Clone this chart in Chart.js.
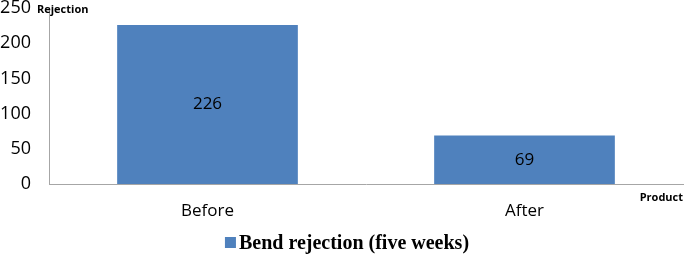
<!DOCTYPE html>
<html lang="en">
<head>
  <meta charset="UTF-8">
  <title>Bend rejection</title>
  <script src="https://cdn.jsdelivr.net/npm/chart.js"></script>
  <style>
    html, body { margin: 0; padding: 0; background: #fff; overflow: hidden; }
    canvas { display: block; }
  </style>
</head>
<body>
<canvas id="chart" width="685" height="257"></canvas>
<script>
  const categories = ["Before", "After"];
  const rejections = [226, 69];
  const yTicks = [0, 50, 100, 150, 200, 250];
  const seriesName = 'Bend rejection (five weeks)';
  const barColor = '#4f81bd';

  const sans = "'Open Sans', 'Liberation Sans', sans-serif";

  // value labels in the bars, the two small axis captions and the legend
  const extras = {
    id: 'extras',
    afterDatasetsDraw(chart) {
      const ctx = chart.ctx;
      const meta = chart.getDatasetMeta(0);
      ctx.save();
      ctx.fillStyle = '#000';
      ctx.font = '17px ' + sans;
      ctx.textAlign = 'center';
      ctx.textBaseline = 'middle';
      meta.data.forEach((bar, i) => {
        ctx.fillText(rejections[i], bar.x, (bar.y + bar.base) / 2);
      });
      const a = chart.chartArea;
      ctx.font = 'bold 11px ' + sans;
      ctx.textAlign = 'left';
      ctx.fillText('Rejection', a.left - 12, a.top + 2);
      ctx.textAlign = 'right';
      ctx.fillText('Product', a.right, a.bottom + 14);

      // legend
      ctx.font = "bold 20px 'Liberation Serif', serif";
      const tw = ctx.measureText(seriesName).width;
      const total = 11 + 3 + tw;
      const lx = (a.left + a.right) / 2 - total / 2 - 19;
      const ly = 243;
      ctx.fillStyle = barColor;
      ctx.fillRect(lx, ly - 6, 11, 11);
      ctx.fillStyle = '#000';
      ctx.textAlign = 'left';
      ctx.fillText(seriesName, lx + 14, ly + 1);
      ctx.restore();
    }
  };

  new Chart(document.getElementById('chart'), {
    type: 'bar',
    data: {
      labels: categories,
      datasets: [{
        label: seriesName,
        data: rejections,
        backgroundColor: barColor,
        borderWidth: 0,
        barPercentage: 0.57,
        categoryPercentage: 1
      }]
    },
    options: {
      responsive: false,
      animation: false,
      layout: { padding: { top: 8, right: 2, left: 0, bottom: 27 } },
      plugins: {
        tooltip: { enabled: false },
        legend: { display: false }
      },
      scales: {
        x: {
          grid: { display: false, drawTicks: false },
          border: { color: '#a6a6a6', width: 1 },
          ticks: { color: '#000', padding: 17, font: { family: sans, size: 17 } },
          afterFit(s) { s.height = 46; }
        },
        y: {
          min: 0,
          max: 250,
          afterBuildTicks(s) { s.ticks = yTicks.map(v => ({ value: v })); },
          grid: { display: false, drawTicks: false },
          border: { color: '#a6a6a6', width: 1 },
          ticks: { color: '#000', padding: 18, font: { family: sans, size: 18 } },
          afterFit(s) { s.width = 49; s.paddingTop = 8; }
        }
      }
    },
    plugins: [extras]
  });
</script>
</body>
</html>
